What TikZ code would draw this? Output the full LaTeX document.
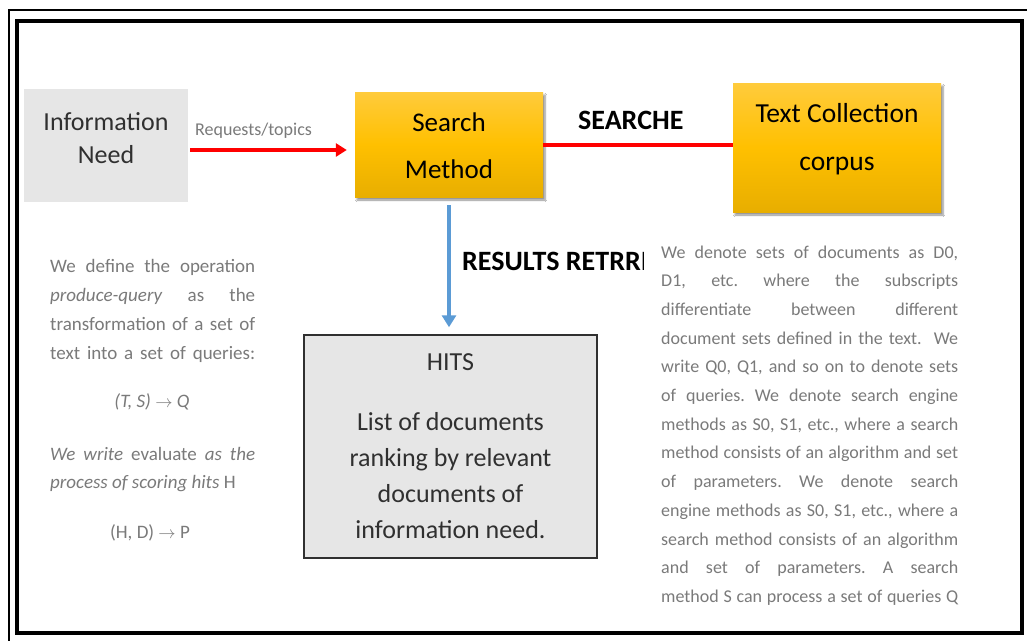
\documentclass[tikz,border=0pt]{standalone}
\usepackage{fontspec}
\setmainfont{Carlito}
\usetikzlibrary{arrows.meta,shadows.blur}
\definecolor{gold}{HTML}{FFC000}
\definecolor{goldtop}{HTML}{FFCB3C}
\definecolor{goldbot}{HTML}{E8AE00}
\definecolor{boxgray}{HTML}{E6E6E6}
\definecolor{txtgray}{HTML}{7A7A7A}
\definecolor{darktxt}{HTML}{303030}
\definecolor{redline}{HTML}{FF0000}
\definecolor{blueline}{HTML}{5B9BD5}
\newcommand{\jl}[2]{\makebox[#1][s]{#2}}
\frenchspacing
\begin{document}
\begin{tikzpicture}[x=1pt,y=-1pt,
  goldbox/.style={rectangle, inner sep=0pt, top color=goldtop, bottom color=goldbot, middle color=gold,
    blur shadow={shadow xshift=2pt, shadow yshift=-3pt, shadow blur steps=6, shadow opacity=45}},
  goldtext/.style={inner sep=0pt, align=center, text=black, font=\fontsize{27}{47}\selectfont},
  graybox/.style={rectangle, inner sep=0pt, fill=boxgray, align=center, text=darktxt},
  para/.style={inner sep=0pt, align=left, text=txtgray, anchor=base west},
  formula/.style={inner sep=0pt, text=txtgray, anchor=base, font=\fontsize{19}{29}\selectfont},
  boldlbl/.style={inner sep=0pt, anchor=base west, font=\fontsize{28}{30}\selectfont\bfseries, text=black},
  redarrow/.style={draw=redline, line width=4pt, -{Triangle[length=11pt,width=13pt]}},
  redconn/.style={draw=redline, line width=4pt},
  bluearrow/.style={draw=blueline, line width=3.5pt, -{Triangle[length=12pt,width=14pt]}}
]
\useasboundingbox (0,0) rectangle (1027,641);
\fill[white] (0,0) rectangle (1027,641);
% frame
\draw[line width=1.2pt] (1027,10) -- (9,10) -- (9,641);
\draw[line width=3.5pt] (17,21) rectangle (1022,633);

% boxes
\node[graybox, minimum width=164pt, minimum height=113pt] (info) at (106,145) {};
\node[inner sep=0pt, align=center, text=darktxt, font=\fontsize{26}{33}\selectfont] (infotxt) at ([yshift=7pt]info.center) {Information\\Need};
\node[goldbox, minimum width=188pt, minimum height=105pt] (sm) at (449,144.5) {};
\node[goldtext] (smtxt) at ([yshift=-1.5pt]sm.center) {Search\\Method};
\node[goldbox, minimum width=208pt, minimum height=129pt] (tc) at (837,147.5) {};
\node[goldtext, font=\fontsize{27.5}{48}\selectfont] (tctxt) at ([yshift=8pt]tc.center) {Text Collection\\corpus};
\node[graybox, draw=darktxt, line width=1.5pt, minimum width=293pt, minimum height=223pt, font=\fontsize{26}{36}\selectfont] (hits) at (450.5,446.5) {HITS\\[24pt]List of documents\\ranking by relevant\\documents of\\information need.};

% connectors
\draw[redarrow, shorten >=8pt] ([yshift=-5pt,xshift=2pt]info.east) -- ([yshift=-5pt]info.east -| sm.west);
\draw[redconn] (sm.east) -- (sm.east -| tc.west);
\draw[bluearrow, shorten <=8pt, shorten >=7pt] (sm.south) -- (sm.south |- hits.north);

% labels
\node[para, font=\fontsize{18}{20}\selectfont] (req) at (195,135) {Requests/topics};
\node[boldlbl] (searche) at (578,129) {SEARCHE};
\begin{scope}
\clip (455,230) rectangle (643,290);
\node[boldlbl] (results) at (462,270) {RESULTS RETRRI};
\end{scope}

% left text
\node[para, font=\fontsize{19}{29}\selectfont] (ltext) at (50,359) {\jl{205pt}{We define the operation}\\\jl{205pt}{\textit{produce-query} as the}\\\jl{205pt}{transformation of a set of}\\\jl{205pt}{text into a set of queries:}};
\node[formula] (f1) at (152,407) {\textit{(T, S)} $\rightarrow$ \textit{Q}};
\node[para, font=\fontsize{19}{28}\selectfont] (eval) at (50,488) {\jl{205pt}{\textit{We write} evaluate \textit{as the}}\\\textit{process of scoring hits} H};
\node[formula] (f2) at (150,538) {(H, D) $\rightarrow$ P};

% right text
\begin{scope}
\clip (640,230) rectangle (1000,605);
\node[para, font=\fontsize{18}{28.7}\selectfont] (rtext) at (661,602.4) {%
\jl{297pt}{We denote sets of documents as D0,}\\
\jl{297pt}{D1, etc. where the subscripts}\\
\jl{297pt}{differentiate between different}\\
\jl{297pt}{document sets defined in the text.\ \ We}\\
\jl{297pt}{write Q0, Q1, and so on to denote sets}\\
\jl{297pt}{of queries. We denote search engine}\\
\jl{297pt}{methods as S0, S1, etc., where a search}\\
\jl{297pt}{method consists of an algorithm and set}\\
\jl{297pt}{of parameters. We denote search}\\
\jl{297pt}{engine methods as S0, S1, etc., where a}\\
\jl{297pt}{search method consists of an algorithm}\\
\jl{297pt}{and set of parameters. A search}\\
\jl{297pt}{method S can process a set of queries Q}};
\end{scope}
\end{tikzpicture}
\end{document}
